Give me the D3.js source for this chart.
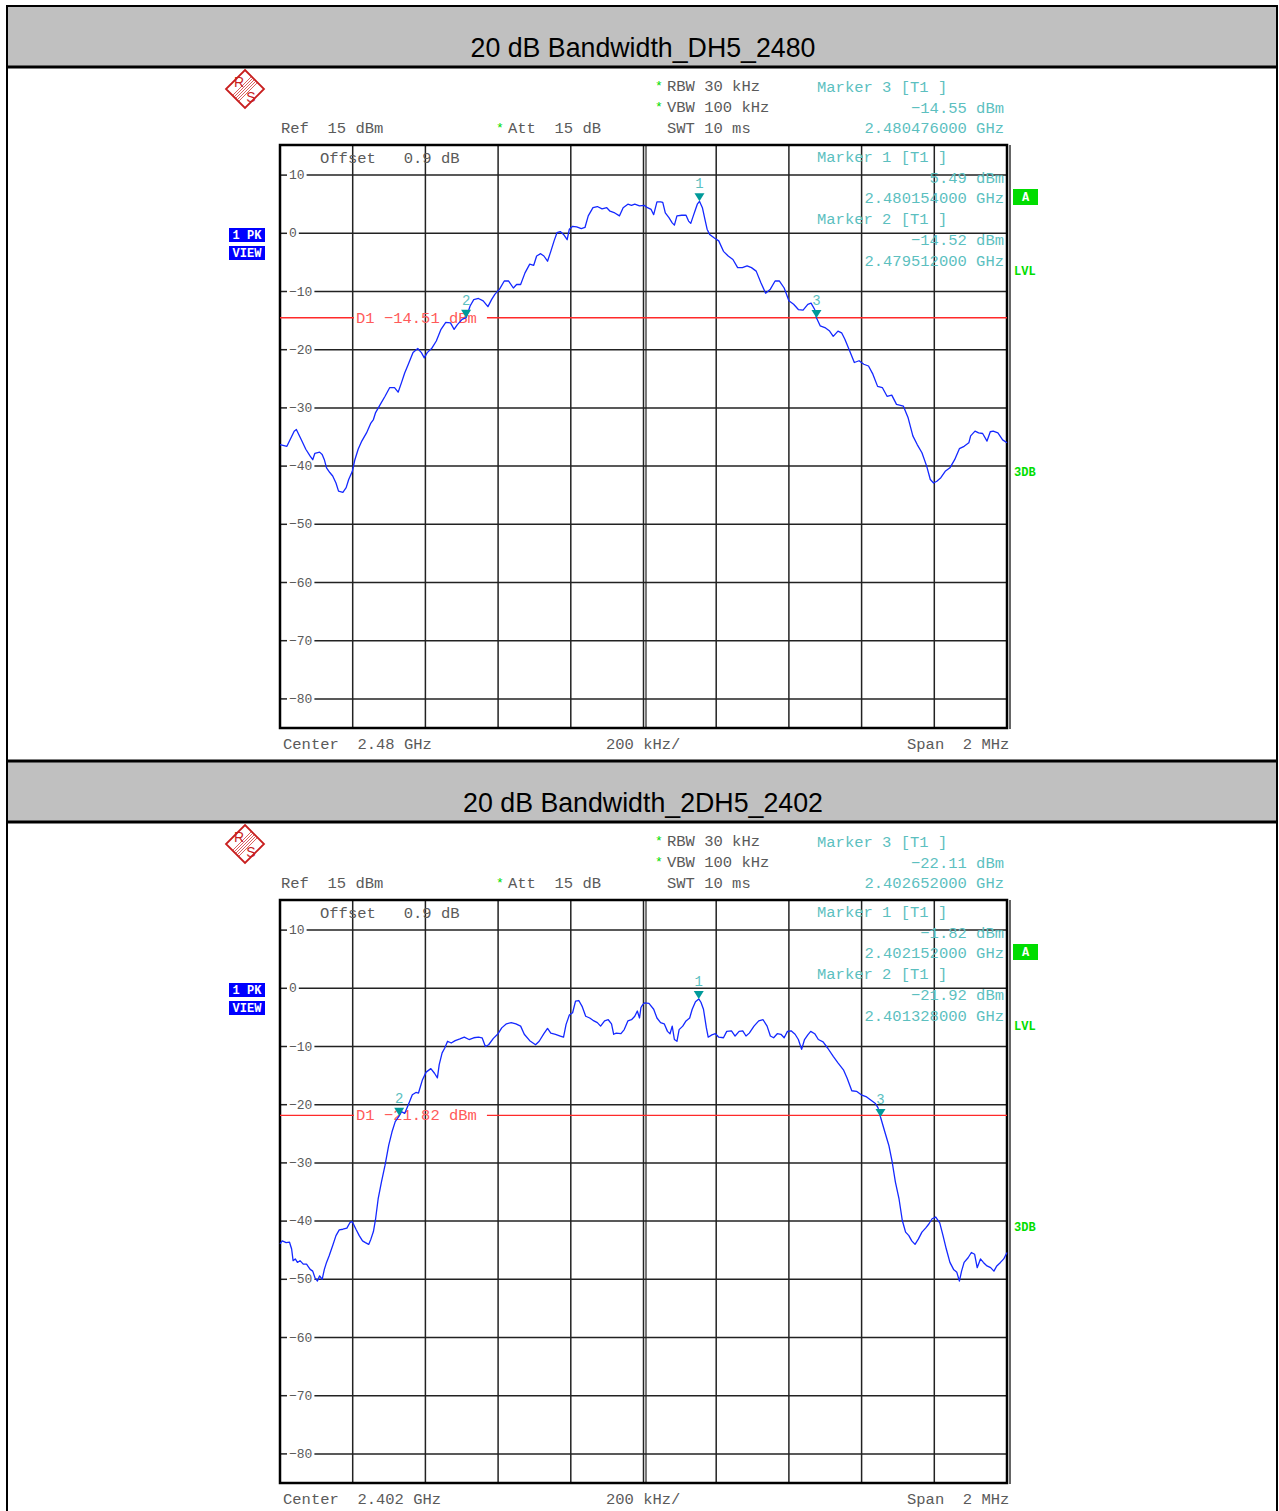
<!DOCTYPE html>
<html>
<head>
<meta charset="utf-8">
<script src="https://cdn.jsdelivr.net/npm/d3@7"></script>
<style>
  body { margin: 0; background: #fff; }
  svg { display: block; }
  text { white-space: pre; }
  .mono { font-family: "Liberation Mono", "Courier New", monospace; }
</style>
</head>
<body>
<svg id="chart" width="1279" height="1511"></svg>
<script>
// panel titles and settings
var titles = ["20 dB Bandwidth_DH5_2480", "20 dB Bandwidth_2DH5_2402"];
var centerGHz = [2.48, 2.402];
var centerLabels = ["2.48 GHz", "2.402 GHz"];
var d1Levels = [-14.51, -21.82];

// y ticks (dBm) and vertical grid (kHz offset from center)
var yTicks = [10, 0, -10, -20, -30, -40, -50, -60, -70, -80];
var xGrid = [-800, -600, -400, -200, 0, 200, 400, 600, 800];

// markers: number, offset kHz, level dBm
var markerNums = [1, 2, 3];
var markerFreqTop = [154, -488, 476];
var markerLevelTop = [5.49, -14.52, -14.55];
var markerFreqBottom = [152, -672, 652];
var markerLevelBottom = [-1.82, -21.92, -22.11];

// trace 1: DH5 2480 (kHz offset, dBm)
var freqTop = [-1000,-981,-961,-955,-942,-929,-917,-910,-904,-891,-884,-878,-872,-863,-855,-846,-839,-827,-818,-811,
  -801,-794,-785,-775,-762,-750,-743,-737,-724,-711,-698,-685,-675,-666,-657,-647,-634,-621,-611,-603,
  -595,-583,-570,-557,-544,-531,-521,-512,-499,-488,-477,-467,-454,-441,-428,-418,-409,-396,-383,-371,
  -358,-349,-338,-326,-313,-302,-294,-283,-274,-264,-255,-246,-238,-229,-220,-210,-204,-195,-184,-171,
  -161,-152,-139,-127,-114,-101,-92,-79,-66,-56,-43,-33,-24,-11,2,11,21,28,37,47,
  53,60,70,79,85,92,105,117,124,130,137,143,148,154,162,169,175,182,195,207,
  220,233,246,259,272,285,297,310,323,336,349,362,374,387,400,413,426,439,452,461,
  471,476,486,499,512,522,535,545,554,567,580,593,606,619,631,644,657,670,683,696,
  715,728,741,753,766,779,789,798,807,818,830,843,856,869,882,895,900,912,922,933,
  945,954,962,975,988,1000];
var levelTop = [-36.3,-36.6,-34.0,-33.7,-35.4,-37.1,-38.3,-38.9,-37.8,-37.6,-38.0,-38.9,-40.3,-41.1,-41.7,-42.9,-44.3,-44.5,-43.7,-42.3,
  -40.9,-38.9,-37.1,-35.7,-34.3,-32.6,-32.0,-30.8,-29.4,-28.0,-26.5,-26.5,-27.3,-25.7,-24.0,-22.5,-20.5,-19.8,-20.5,-21.4,
  -20.5,-19.8,-18.5,-16.5,-15.3,-15.4,-16.5,-15.7,-14.8,-14.5,-12.5,-11.4,-11.2,-11.6,-12.6,-11.4,-10.5,-9.6,-8.2,-8.2,
  -9.4,-8.8,-8.8,-6.8,-5.3,-5.5,-3.9,-3.5,-3.9,-4.8,-3.1,-1.3,0.1,0.3,-0.2,-1.1,0.7,1.2,1.1,0.8,
  1.0,3.0,4.4,4.6,4.2,4.4,3.8,3.5,3.0,4.4,5.0,4.8,5.0,4.7,4.8,4.4,4.1,3.2,5.4,5.4,
  5.3,3.5,2.7,1.8,1.4,3.0,3.1,3.1,2.1,1.7,3.0,4.1,5.0,5.49,4.4,2.4,0.7,-0.2,-0.8,-1.3,
  -3.1,-3.9,-4.5,-5.9,-5.9,-5.6,-5.9,-6.5,-8.5,-10.3,-9.6,-8.2,-8.2,-9.4,-11.6,-12.2,-13.1,-13.2,-12.2,-12.0,
  -13.1,-14.55,-15.9,-16.2,-16.8,-17.7,-16.8,-17.1,-18.2,-20.2,-22.2,-21.9,-22.5,-22.8,-24.2,-26.3,-26.5,-28.0,-27.8,-29.4,
  -29.7,-31.7,-34.8,-36.3,-37.7,-40.0,-42.3,-42.9,-42.6,-42.0,-40.9,-40.3,-38.9,-37.0,-36.6,-36.0,-34.8,-34.0,-34.3,-34.4,
  -35.7,-34.1,-34.0,-34.3,-35.5,-36.0];

// trace 2: 2DH5 2402 (kHz offset, dBm)
var freqBottom = [-1000,-994,-983,-974,-968,-964,-958,-952,-945,-936,-927,-917,-910,-904,-897,-891,-884,-878,-872,-865,
  -855,-846,-837,-827,-816,-807,-801,-791,-782,-773,-765,-756,-750,-743,-737,-730,-721,-711,-701,-692,
  -683,-672,-666,-657,-647,-636,-626,-619,-608,-598,-585,-575,-567,-562,-554,-547,-539,-529,-518,-505,
  -493,-480,-467,-454,-444,-435,-426,-413,-400,-390,-377,-364,-351,-338,-328,-313,-297,-287,-274,-264,
  -255,-242,-229,-220,-213,-204,-195,-187,-178,-169,-159,-148,-139,-127,-118,-107,-97,-88,-82,-75,
  -62,-53,-43,-33,-24,-17,-11,-7,-2,3,15,28,37,47,57,66,73,79,85,92,
  98,108,117,127,134,143,152,158,165,173,178,188,198,207,220,229,242,252,263,273,
  282,291,304,317,329,340,349,358,368,378,387,396,406,417,426,435,443,452,460,471,
  481,494,507,522,535,550,560,573,586,599,612,625,638,645,652,664,675,684,693,703,
  712,721,730,738,747,756,766,776,785,794,804,815,824,833,843,853,862,869,875,882,
  893,902,911,918,927,935,945,955,964,972,982,991,1000];
var levelBottom = [-43.9,-43.4,-43.7,-43.6,-44.8,-46.8,-46.5,-47.1,-46.8,-47.4,-47.4,-48.3,-48.6,-49.7,-50.3,-49.4,-50.0,-48.3,-47.1,-46.0,
  -44.2,-42.5,-41.5,-41.4,-41.2,-40.2,-40.1,-41.4,-42.5,-43.4,-43.7,-44.0,-43.1,-41.8,-39.6,-36.2,-33.3,-30.4,-27.0,-24.7,
  -22.9,-21.92,-21.2,-21.5,-20.0,-18.3,-17.9,-18.0,-15.7,-14.4,-13.8,-14.6,-15.4,-13.1,-11.1,-10.3,-9.1,-9.4,-9.0,-8.7,
  -8.4,-8.8,-8.5,-8.4,-8.5,-10.0,-9.7,-8.6,-7.8,-6.8,-6.1,-5.9,-6.1,-6.5,-7.9,-9.0,-9.7,-9.1,-7.8,-6.9,
  -7.7,-7.9,-8.2,-8.4,-6.2,-4.6,-4.2,-2.2,-2.1,-3.1,-4.8,-5.1,-5.5,-5.9,-6.5,-5.6,-5.4,-6.1,-7.9,-7.7,
  -7.8,-7.1,-5.6,-5.4,-4.8,-3.9,-5.1,-3.3,-2.8,-2.5,-2.6,-3.6,-5.1,-5.9,-6.1,-7.4,-7.8,-6.5,-8.8,-9.1,
  -7.1,-6.5,-5.6,-5.1,-3.6,-2.3,-1.82,-2.4,-3.6,-6.8,-8.4,-8.0,-7.8,-8.4,-8.5,-7.4,-7.3,-8.2,-7.4,-7.3,
  -8.2,-7.7,-6.5,-5.6,-5.4,-6.5,-8.2,-8.5,-7.8,-7.9,-8.5,-7.4,-7.3,-7.9,-8.8,-10.5,-8.8,-8.0,-7.4,-7.8,
  -8.8,-9.2,-10.3,-11.7,-12.8,-14.0,-15.4,-17.6,-17.7,-18.3,-18.6,-19.2,-19.8,-20.5,-22.11,-24.7,-27.0,-29.8,-33.3,-36.2,
  -39.9,-41.9,-42.5,-43.4,-44.0,-43.1,-41.9,-41.2,-40.5,-39.6,-39.3,-40.3,-42.5,-44.8,-47.1,-48.3,-48.8,-50.3,-48.6,-47.1,
  -46.3,-45.4,-45.7,-48.0,-46.5,-47.1,-47.7,-48.0,-48.6,-47.7,-47.1,-46.5,-45.4];

var svg = d3.select("#chart");

// page frame
svg.append("rect").attr("x", 7).attr("y", 6).attr("width", 1270).attr("height", 1520)
  .attr("fill", "none").attr("stroke", "#000").attr("stroke-width", 2);

var panels = [
  { oy: 0, freq: freqTop, level: levelTop, mf: markerFreqTop, ml: markerLevelTop },
  { oy: 755, freq: freqBottom, level: levelBottom, mf: markerFreqBottom, ml: markerLevelBottom }
];

var grey = "#5a5a5a", teal = "#5cbfbf", green = "#00dd00", fs = 15.5;

panels.forEach(function(p, i) {
  var oy = p.oy;
  var g = svg.append("g");

  // header band
  g.append("rect").attr("x", 8).attr("y", 7 + oy).attr("width", 1268).attr("height", 59)
    .attr("fill", "#c0c0c0");
  g.append("line").attr("x1", 7).attr("x2", 1278).attr("y1", 67 + oy).attr("y2", 67 + oy)
    .attr("stroke", "#000").attr("stroke-width", 3);
  if (i > 0) {
    g.append("line").attr("x1", 7).attr("x2", 1278).attr("y1", 6 + oy).attr("y2", 6 + oy)
      .attr("stroke", "#000").attr("stroke-width", 3);
  }
  var title = g.append("text").attr("x", 643).attr("y", 57 + oy).attr("text-anchor", "middle")
    .style("font-family", "'Liberation Sans', Arial, sans-serif").style("font-size", "28px")
    .text(titles[i]);
  title.attr("textLength", title.node().getComputedTextLength() * 0.955)
    .attr("lengthAdjust", "spacingAndGlyphs");

  var x = d3.scaleLinear().domain([-1000, 1000]).range([280, 1007]);
  var y = d3.scaleLinear().domain([-85, 15]).range([728 + oy, 146 + oy]);

  // R&S logo
  var red = "#c81e1e";
  var logo = g.append("g").attr("transform", "translate(245," + (89 + oy) + ")");
  logo.append("path").attr("d", "M0,-19 L19,0 L0,19 L-19,0 Z").attr("fill", "none")
    .attr("stroke", red).attr("stroke-width", 1.8);
  [-3, -1.5, 0, 1.5, 3].forEach(function(k) {
    logo.append("line").attr("x1", 9 + k).attr("y1", -9 + k).attr("x2", -9 + k).attr("y2", 9 + k)
      .attr("stroke", red).attr("stroke-width", 0.7);
  });
  logo.append("text").attr("x", -6).attr("y", -2).attr("text-anchor", "middle")
    .style("font-family", "'Liberation Sans', sans-serif").style("font-size", "14px")
    .attr("fill", red).text("R");
  logo.append("text").attr("x", 6).attr("y", 13).attr("text-anchor", "middle")
    .style("font-family", "'Liberation Sans', sans-serif").style("font-size", "14px")
    .attr("fill", red).text("S");

  function txt(xp, yp, s, color, anchor, size) {
    return g.append("text").attr("class", "mono").attr("x", xp).attr("y", yp + oy)
      .attr("text-anchor", anchor || "start").attr("fill", color || grey)
      .style("font-size", (size || fs) + "px").text(s);
  }
  function star(xp, yp) {
    txt(xp, yp, "*", green, "start", 13);
  }

  // settings text
  star(655, 90); txt(667, 91, "RBW 30 kHz");
  star(655, 111); txt(667, 112, "VBW 100 kHz");
  txt(667, 133, "SWT 10 ms");
  txt(281, 133, "Ref  15 dBm");
  star(496, 132); txt(508, 133, "Att  15 dB");

  var fmtF = function(f) { return d3.format(".9f")(centerGHz[i] + f / 1e6) + " GHz"; };
  var fmtL = function(l) { return d3.format(".2f")(l).replace("-", "\u2212") + " dBm"; };

  txt(817, 92, "Marker 3 [T1 ]", teal);
  txt(1004, 113, fmtL(p.ml[2]), teal, "end");
  txt(1004, 133, fmtF(p.mf[2]), teal, "end");

  // grid
  var grid = g.append("g");
  grid.selectAll("line.v").data(xGrid).enter().append("line")
    .attr("x1", function(d) { return x(d); }).attr("x2", function(d) { return x(d); })
    .attr("y1", y(15)).attr("y2", y(-85))
    .attr("stroke", "#222").attr("stroke-width", 1.5);
  grid.append("line").attr("x1", x(0) + 2.5).attr("x2", x(0) + 2.5).attr("y1", y(15)).attr("y2", y(-85))
    .attr("stroke", "#222").attr("stroke-width", 1.2);

  yTicks.forEach(function(t) {
    var lab = g.append("text").attr("class", "mono").attr("x", 289).attr("y", y(t) + 4)
      .attr("fill", grey).style("font-size", "13px")
      .text(t < 0 ? "\u2212" + Math.abs(t) : String(t));
    var w = lab.node().getComputedTextLength();
    grid.append("line").attr("x1", 280).attr("x2", 287).attr("y1", y(t)).attr("y2", y(t))
      .attr("stroke", "#222").attr("stroke-width", 1.5);
    grid.append("line").attr("x1", 289 + w + 2).attr("x2", 1007).attr("y1", y(t)).attr("y2", y(t))
      .attr("stroke", "#222").attr("stroke-width", 1.5);
  });

  // frame
  g.append("rect").attr("x", 280).attr("y", y(15) - 1).attr("width", 727).attr("height", y(-85) - y(15) + 1)
    .attr("fill", "none").attr("stroke", "#000").attr("stroke-width", 2.5);
  g.append("line").attr("x1", 1010).attr("x2", 1010).attr("y1", y(15) - 1).attr("y2", y(-85) + 1)
    .attr("stroke", "#333").attr("stroke-width", 1.5);

  // display line D1
  var yd = y(d1Levels[i]);
  var d1 = g.append("text").attr("class", "mono").attr("x", 356).attr("y", yd + 5)
    .attr("fill", "#ff5a5a").style("font-size", fs + "px")
    .text("D1 " + fmtL(d1Levels[i]));
  var dw = d1.node().getComputedTextLength();
  g.append("line").attr("x1", 280).attr("x2", 354).attr("y1", yd).attr("y2", yd)
    .attr("stroke", "#ff2a2a").attr("stroke-width", 1.3);
  g.append("line").attr("x1", 356 + dw + 10).attr("x2", 1007).attr("y1", yd).attr("y2", yd)
    .attr("stroke", "#ff2a2a").attr("stroke-width", 1.3);

  // trace
  var pts = p.freq.map(function(f, k) { return [f, p.level[k]]; });
  var line = d3.line().x(function(d) { return x(d[0]); }).y(function(d) { return y(d[1]); });
  g.append("path").datum(pts).attr("d", line).attr("fill", "none")
    .attr("stroke", "#1428ff").attr("stroke-width", 1.3).attr("stroke-linejoin", "round");

  // markers
  markerNums.forEach(function(n, k) {
    var mx = x(p.mf[k]), my = y(p.ml[k]);
    g.append("path").attr("d", "M" + (mx - 5) + "," + (my - 8) + "L" + (mx + 5) + "," + (my - 8) + "L" + mx + "," + my + "Z")
      .attr("fill", "#009a9a");
    g.append("text").attr("class", "mono").attr("x", mx).attr("y", my - 13)
      .attr("text-anchor", "middle").attr("fill", teal).style("font-size", "14px").text(n);
  });

  // marker readouts inside the grid
  txt(817, 162, "Marker 1 [T1 ]", teal);
  txt(1004, 183, fmtL(p.ml[0]), teal, "end");
  txt(1004, 203, fmtF(p.mf[0]), teal, "end");
  txt(817, 224, "Marker 2 [T1 ]", teal);
  txt(1004, 245, fmtL(p.ml[1]), teal, "end");
  txt(1004, 266, fmtF(p.mf[1]), teal, "end");

  // "Offset" note
  txt(320, 163, "Offset   0.9 dB");

  // side flags
  g.append("rect").attr("x", 229).attr("y", 228 + oy).attr("width", 36).attr("height", 14).attr("fill", "#0000ff");
  g.append("rect").attr("x", 229).attr("y", 246 + oy).attr("width", 36).attr("height", 14).attr("fill", "#0000ff");
  g.append("text").attr("class", "mono").attr("x", 247).attr("y", 239 + oy).attr("text-anchor", "middle")
    .attr("fill", "#fff").style("font-size", "12px").style("font-weight", "bold").text("1 PK");
  g.append("text").attr("class", "mono").attr("x", 247).attr("y", 257 + oy).attr("text-anchor", "middle")
    .attr("fill", "#fff").style("font-size", "12px").style("font-weight", "bold").text("VIEW");
  g.append("rect").attr("x", 1013).attr("y", 189 + oy).attr("width", 25).attr("height", 16).attr("fill", "#00dd00");
  g.append("text").attr("class", "mono").attr("x", 1025.5).attr("y", 201 + oy).attr("text-anchor", "middle")
    .attr("fill", "#fff").style("font-size", "12px").style("font-weight", "bold").text("A");
  txt(1014, 275, "LVL", green, "start", 12).style("font-weight", "bold");
  txt(1014, 476, "3DB", green, "start", 12).style("font-weight", "bold");

  // bottom annotations
  txt(283, 749, "Center  " + centerLabels[i]);
  txt(606, 749, "200 kHz/");
  txt(907, 749, "Span  2 MHz");
});
</script>
</body>
</html>
